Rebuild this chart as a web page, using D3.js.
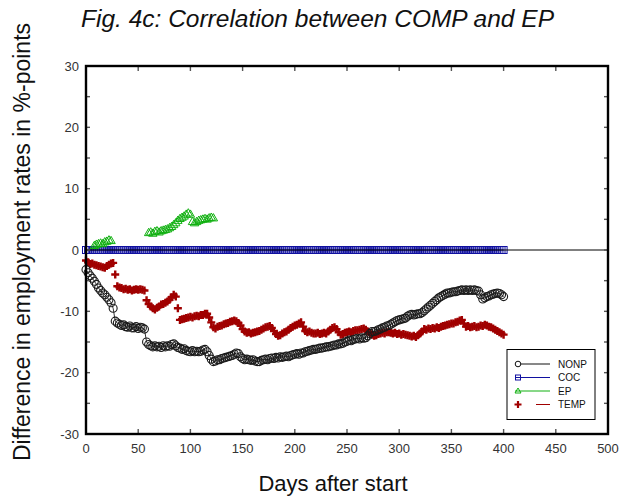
<!DOCTYPE html>
<html>
<head>
<meta charset="utf-8">
<script src="https://cdn.jsdelivr.net/npm/d3@7"></script>
<style>
  html, body { margin: 0; padding: 0; background: #fff; }
  svg { display: block; }
  text { font-family: "Liberation Sans", Arial, Helvetica, sans-serif; }
</style>
</head>
<body>
<svg id="chart" width="621" height="502"></svg>
<script>
// ---------------- DATA ----------------
const title = "Fig. 4c: Correlation between COMP and EP";
const xTitle = "Days after start";
const yTitle = "Difference in employment rates in %-points";
const seriesNames = ["NONP", "COC", "EP", "TEMP"];
const xTicks = [0, 50, 100, 150, 200, 250, 300, 350, 400, 450, 500];
const yTicks = [-30, -20, -10, 0, 10, 20, 30];
const yMinorTicks = [-30, -25, -20, -15, -10, -5, 0, 5, 10, 15, 20, 25, 30];
const dayStep = 2; // observations read every 2 days, day 0 .. 400

const nonpValues = [
  -3.2, -3.7, -4.2, -4.6, -5.1, -5.6, -6.2, -6.6, -7.0, -7.3,
  -7.7, -8.1, -8.6, -9.5, -11.6, -11.9, -12.1, -12.3, -12.2, -12.5,
  -12.6, -12.4, -12.7, -12.7, -12.5, -12.8, -12.6, -12.7, -12.9, -15.0,
  -15.4, -15.6, -15.8, -15.6, -15.8, -15.7, -15.9, -15.6, -15.8, -15.6,
  -15.7, -15.4, -15.3, -15.6, -15.9, -16.0, -16.2, -16.1, -16.4, -16.5,
  -16.6, -16.4, -16.6, -16.5, -16.6, -16.5, -16.3, -16.2, -16.6, -17.2,
  -17.8, -18.2, -18.1, -17.9, -17.9, -17.7, -17.6, -17.5, -17.4, -17.3,
  -17.2, -17.0, -16.8, -16.9, -17.4, -17.7, -17.9, -17.8, -17.9, -18.0,
  -17.9, -18.1, -18.2, -18.2, -18.0, -17.9, -17.8, -17.9, -17.7, -17.6,
  -17.7, -17.5, -17.6, -17.4, -17.5, -17.4, -17.3, -17.4, -17.2, -17.1,
  -17.0, -16.9, -17.0, -16.8, -16.8, -16.6, -16.5, -16.4, -16.3, -16.2,
  -16.2, -16.1, -16.0, -16.0, -15.9, -15.8, -15.8, -15.7, -15.6, -15.5,
  -15.5, -15.3, -15.3, -15.2, -15.0, -14.9, -14.7, -14.8, -14.6, -14.5,
  -14.4, -14.5, -14.3, -14.4, -14.3, -14.0, -13.6, -13.3, -13.3, -13.2,
  -13.0, -12.9, -12.7, -12.6, -12.4, -12.3, -12.1, -11.9, -11.7, -11.5,
  -11.4, -11.3, -11.2, -11.1, -10.8, -10.6, -10.5, -10.6, -10.5, -10.4,
  -10.4, -10.2, -9.9, -9.6, -9.3, -9.0, -8.7, -8.4, -8.1, -7.8,
  -7.6, -7.4, -7.2, -7.0, -7.0, -6.9, -6.8, -6.8, -6.7, -6.6,
  -6.5, -6.6, -6.5, -6.6, -6.5, -6.6, -6.5, -6.6, -6.7, -7.3,
  -8.0, -7.8, -7.6, -7.5, -7.3, -7.2, -7.1, -7.0, -7.1, -7.3,
  -7.6
];

const tempValues = [
  -1.7, -2.0, -2.3, -2.2, -2.4, -2.5, -2.6, -2.7, -2.8, -2.9,
  -2.6, -2.4, -2.2, -2.1, -4.0, -5.9, -6.1, -6.2, -6.4, -6.3,
  -6.5, -6.4, -6.6, -6.5, -6.4, -6.5, -6.4, -6.5, -6.6, -8.2,
  -8.8, -9.2, -9.5, -9.7, -9.4, -9.2, -8.9, -8.8, -8.6, -8.4,
  -8.1, -7.7, -7.3, -7.6, -9.5, -11.4, -11.3, -11.2, -11.1, -11.0,
  -10.9, -11.0, -10.8, -10.7, -10.8, -10.6, -10.6, -10.4, -10.4, -11.0,
  -11.8, -12.6, -12.8, -12.5, -12.4, -12.3, -12.1, -12.0, -11.9, -11.7,
  -11.6, -11.5, -11.6, -11.9, -12.3, -12.9, -13.3, -13.5, -13.4, -13.6,
  -13.5, -13.4, -13.3, -13.2, -13.0, -12.8, -12.6, -12.5, -12.4, -12.7,
  -13.2, -13.7, -14.0, -13.9, -13.6, -13.4, -13.3, -13.0, -12.7, -12.5,
  -12.3, -12.2, -12.0, -11.8, -12.5, -13.2, -13.4, -13.3, -13.5, -13.6,
  -13.6, -13.5, -13.7, -13.6, -13.5, -13.6, -13.3, -13.0, -12.7, -12.6,
  -12.9, -13.4, -13.8, -13.7, -13.5, -13.4, -13.3, -13.4, -13.2, -13.1,
  -13.1, -13.0, -12.9, -12.8, -13.0, -13.3, -13.6, -13.8, -14.0, -13.9,
  -13.7, -13.6, -13.5, -13.6, -13.4, -13.4, -13.5, -13.6, -13.5, -13.7,
  -13.6, -13.8, -13.7, -13.8, -13.9, -14.0, -14.1, -14.0, -14.2, -13.9,
  -13.6, -13.3, -12.9, -13.0, -12.8, -12.9, -12.7, -12.8, -12.6, -12.7,
  -12.5, -12.4, -12.3, -12.2, -12.1, -12.0, -12.0, -11.8, -11.7, -11.5,
  -11.4, -12.0, -12.5, -12.4, -12.6, -12.5, -12.4, -12.6, -12.5, -12.3,
  -12.4, -12.2, -12.3, -12.5, -12.6, -12.8, -13.0, -13.2, -13.4, -13.6,
  -13.8
];

const cocValues = [
  0,0,0,0,0,0,0,0,0,0, 0,0,0,0,0,0,0,0,0,0,
  0,0,0,0,0,0,0,0,0,0, 0,0,0,0,0,0,0,0,0,0,
  0,0,0,0,0,0,0,0,0,0, 0,0,0,0,0,0,0,0,0,0,
  0,0,0,0,0,0,0,0,0,0, 0,0,0,0,0,0,0,0,0,0,
  0,0,0,0,0,0,0,0,0,0, 0,0,0,0,0,0,0,0,0,0,
  0,0,0,0,0,0,0,0,0,0, 0,0,0,0,0,0,0,0,0,0,
  0,0,0,0,0,0,0,0,0,0, 0,0,0,0,0,0,0,0,0,0,
  0,0,0,0,0,0,0,0,0,0, 0,0,0,0,0,0,0,0,0,0,
  0,0,0,0,0,0,0,0,0,0, 0,0,0,0,0,0,0,0,0,0,
  0,0,0,0,0,0,0,0,0,0, 0,0,0,0,0,0,0,0,0,0,
  0
];

const epDays = [8, 10, 12, 14, 16, 18, 20, 22, 24,
  60, 62, 64, 66, 68, 70, 72, 74, 76, 78, 80, 82, 84, 86, 88, 90,
  92, 94, 96, 98, 100, 102, 104, 106, 108, 110, 112, 114, 116, 118, 120, 122];
const epValues = [0.7, 0.9, 1.0, 1.1, 1.0, 1.3, 1.4, 1.6, 1.5,
  2.8, 2.9, 2.7, 3.0, 3.1, 2.9, 3.1, 3.2, 3.3, 3.4, 3.6, 3.8, 4.1, 4.4, 4.8, 5.1,
  5.3, 5.5, 5.8, 6.0, 5.8, 4.6, 4.4, 4.6, 4.8, 4.9, 5.0, 5.1, 5.0, 5.2, 5.3, 5.2];

// ---------------- CHART ----------------
const svg = d3.select("#chart");
const x = d3.scaleLinear().domain([0, 500]).range([86, 608]);
const y = d3.scaleLinear().domain([-30, 30]).range([434, 66]);

const toPts = vals => vals.map((v, i) => ({ d: i * dayStep, v }));
const nonp = toPts(nonpValues);
const temp = toPts(tempValues);
const coc = toPts(cocValues);
const ep = epDays.map((d, i) => ({ d, v: epValues[i] }));

const colors = { NONP: "#111", COC: "#1010a0", EP: "#10b010", TEMP: "#a00000" };

const line = d3.line().x(p => x(p.d)).y(p => y(p.v));
const plot = svg.append("g");

// TEMP markers (plus)
const plusPath = "M-4,0H4M0,-4V4";
plot.append("g").selectAll("path").data(temp).join("path")
  .attr("transform", p => `translate(${x(p.d)},${y(p.v)})`)
  .attr("d", plusPath).attr("stroke", colors.TEMP).attr("stroke-width", 2.4).attr("fill", "none");

// NONP line + circles
plot.append("path").datum(nonp).attr("d", line)
  .attr("fill", "none").attr("stroke", "#000").attr("stroke-width", 0.8);
plot.append("g").selectAll("circle").data(nonp).join("circle")
  .attr("cx", p => x(p.d)).attr("cy", p => y(p.v)).attr("r", 4)
  .attr("fill", "none").attr("stroke", "#1a1a1a").attr("stroke-width", 1.1);

// COC line + squares
plot.append("path").datum(coc).attr("d", line)
  .attr("fill", "none").attr("stroke", colors.COC).attr("stroke-width", 1);
plot.append("g").selectAll("rect").data(coc).join("rect")
  .attr("x", p => x(p.d) - 3.5).attr("y", p => y(p.v) - 3.5)
  .attr("width", 7).attr("height", 7)
  .attr("fill", "none").attr("stroke", colors.COC).attr("stroke-width", 1);

// EP triangles
const triPath = "M0,-4.5L4.2,2.8L-4.2,2.8Z";
plot.append("g").selectAll("path").data(ep).join("path")
  .attr("transform", p => `translate(${x(p.d)},${y(p.v)})`)
  .attr("d", triPath).attr("fill", "none").attr("stroke", colors.EP).attr("stroke-width", 1);

// zero line
svg.append("line").attr("x1", x(0)).attr("x2", x(500)).attr("y1", y(0)).attr("y2", y(0))
  .attr("stroke", "#000").attr("stroke-width", 1);

// ticks (inward)
const tickG = svg.append("g").attr("stroke", "#555").attr("stroke-width", 1.4);
xTicks.forEach(t => {
  tickG.append("line").attr("x1", x(t)).attr("x2", x(t)).attr("y1", y(-30)).attr("y2", y(-30) - 5);
  tickG.append("line").attr("x1", x(t)).attr("x2", x(t)).attr("y1", y(30)).attr("y2", y(30) + 5);
});
yMinorTicks.forEach(t => {
  tickG.append("line").attr("x1", x(0)).attr("x2", x(0) + 4).attr("y1", y(t)).attr("y2", y(t));
  tickG.append("line").attr("x1", x(500)).attr("x2", x(500) - 4).attr("y1", y(t)).attr("y2", y(t));
});

// frame
svg.append("rect").attr("x", x(0)).attr("y", y(30))
  .attr("width", x(500) - x(0)).attr("height", y(-30) - y(30))
  .attr("fill", "none").attr("stroke", "#000").attr("stroke-width", 2.4);

// tick labels
svg.append("g").selectAll("text").data(xTicks).join("text")
  .attr("x", t => x(t)).attr("y", 453).attr("text-anchor", "middle")
  .attr("font-size", 13).attr("fill", "#333").text(t => t);
svg.append("g").selectAll("text").data(yTicks).join("text")
  .attr("x", 79).attr("y", t => y(t) + 4.5).attr("text-anchor", "end")
  .attr("font-size", 13).attr("fill", "#333").text(t => t);

// titles
svg.append("text").attr("x", 81).attr("y", 27)
  .attr("font-size", 24.5).attr("font-style", "italic").attr("fill", "#111").text(title);
svg.append("text").attr("x", 333).attr("y", 491).attr("text-anchor", "middle")
  .attr("font-size", 22).attr("fill", "#111").text(xTitle);
svg.append("text").attr("transform", "translate(30,242) rotate(-90)")
  .attr("text-anchor", "middle").attr("font-size", 23).attr("fill", "#111").text(yTitle);

// legend
const lg = svg.append("g");
lg.append("rect").attr("x", 507).attr("y", 349.5).attr("width", 88).attr("height", 70)
  .attr("fill", "#fff").attr("stroke", "#000").attr("stroke-width", 1);
const rowY = [364, 377.5, 391, 404.5];
seriesNames.forEach((name, i) => {
  const yy = rowY[i];
  const c = colors[name];
  if (name === "TEMP") {
    lg.append("line").attr("x1", 536).attr("x2", 550).attr("y1", yy).attr("y2", yy)
      .attr("stroke", c).attr("stroke-width", 1);
    lg.append("path").attr("transform", `translate(518,${yy})`).attr("d", "M-3.5,0H3.5M0,-3.5V3.5")
      .attr("stroke", c).attr("stroke-width", 2.2).attr("fill", "none");
  } else {
    lg.append("line").attr("x1", 515).attr("x2", 550).attr("y1", yy).attr("y2", yy)
      .attr("stroke", c).attr("stroke-width", 1);
    if (name === "NONP") {
      lg.append("circle").attr("cx", 518).attr("cy", yy).attr("r", 2.8)
        .attr("fill", "#fff").attr("stroke", c).attr("stroke-width", 1);
    } else if (name === "COC") {
      lg.append("rect").attr("x", 515.5).attr("y", yy - 2.5).attr("width", 5).attr("height", 5)
        .attr("fill", "none").attr("stroke", c).attr("stroke-width", 1);
    } else {
      lg.append("path").attr("transform", `translate(518,${yy})`).attr("d", "M0,-3L3,2L-3,2Z")
        .attr("fill", "none").attr("stroke", c).attr("stroke-width", 1);
    }
  }
  lg.append("text").attr("x", 558).attr("y", yy + 3.5).attr("font-size", 10)
    .attr("fill", "#111").text(name);
});
</script>
</body>
</html>
